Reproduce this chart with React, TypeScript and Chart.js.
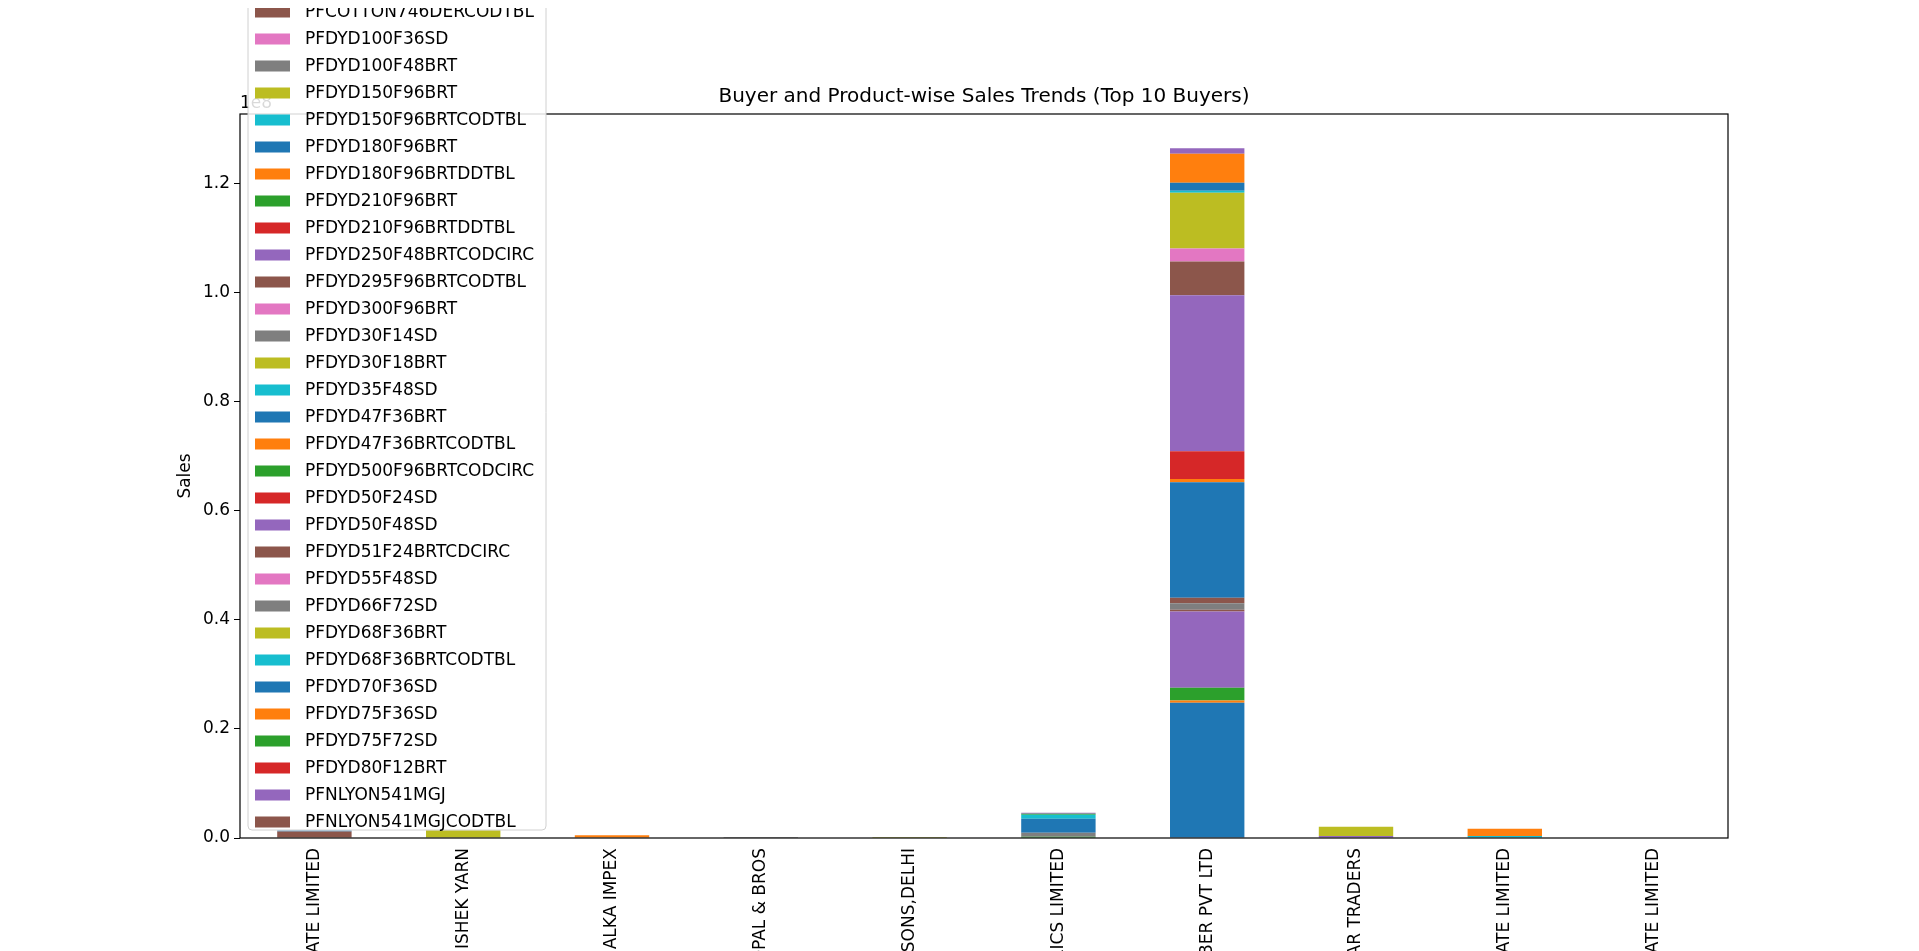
import { useEffect, useRef } from "react"
import { Chart, registerables } from "chart.js"

Chart.register(...registerables)

// buyer names (only the tail end is visible in the picture)
const buyers = [
  "SHREE SPINNERS PRIVATE LIMITED",
  "ABHISHEK YARN",
  "ALKA IMPEX",
  "GOPAL & BROS",
  "JAIN SONS,DELHI",
  "VARDHMAN FABRICS LIMITED",
  "POLYFIBER PVT LTD",
  "KUMAR TRADERS",
  "TEXTILES INDIA PRIVATE LIMITED",
  "SURYA SYNTHETICS PRIVATE LIMITED",
]

// products above the visible part of the legend (cut off at the top)
const hiddenProducts = ["PFCOTTON40SCOMB", "PFCOTTON60SCOMB", "PFCOTTON60SCOMBCODTBL", "PFCOTTON746", "PFCOTTON746DER"]

const products = [
  "PFCOTTON746DERCODTBL", "PFDYD100F36SD", "PFDYD100F48BRT", "PFDYD150F96BRT", "PFDYD150F96BRTCODTBL",
  "PFDYD180F96BRT", "PFDYD180F96BRTDDTBL", "PFDYD210F96BRT", "PFDYD210F96BRTDDTBL", "PFDYD250F48BRTCODCIRC",
  "PFDYD295F96BRTCODTBL", "PFDYD300F96BRT", "PFDYD30F14SD", "PFDYD30F18BRT", "PFDYD35F48SD",
  "PFDYD47F36BRT", "PFDYD47F36BRTCODTBL", "PFDYD500F96BRTCODCIRC", "PFDYD50F24SD", "PFDYD50F48SD",
  "PFDYD51F24BRTCDCIRC", "PFDYD55F48SD", "PFDYD66F72SD", "PFDYD68F36BRT", "PFDYD68F36BRTCODTBL",
  "PFDYD70F36SD", "PFDYD75F36SD", "PFDYD75F72SD", "PFDYD80F12BRT", "PFNLYON541MGJ",
  "PFNLYON541MGJCODTBL",
]

const allProducts = [...hiddenProducts, ...products]

// sales per product: [buyer index, value]
const sales: Record<string, [number, number][]> = {
  PFCOTTON40SCOMB: [[6, 24800000]],
  PFCOTTON60SCOMB: [[6, 400000]],
  PFCOTTON60SCOMBCODTBL: [[6, 2350000]],
  PFCOTTON746DER: [[6, 14000000], [7, 370000]],
  PFCOTTON746DERCODTBL: [[0, 1200000], [6, 300000]],
  PFDYD100F48BRT: [[6, 1200000]],
  PFDYD150F96BRTCODTBL: [[8, 370000]],
  PFDYD180F96BRT: [[0, 180000]],
  PFDYD180F96BRTDDTBL: [[2, 500000]],
  PFDYD210F96BRT: [[5, 250000]],
  PFDYD295F96BRTCODTBL: [[6, 1000000]],
  PFDYD30F14SD: [[5, 730000]],
  PFDYD30F18BRT: [[4, 200000]],
  PFDYD47F36BRT: [[5, 2570000], [6, 21200000]],
  PFDYD47F36BRTCODTBL: [[6, 600000], [8, 1340000]],
  PFDYD50F24SD: [[6, 5100000]],
  PFDYD50F48SD: [[6, 28600000]],
  PFDYD51F24BRTCDCIRC: [[6, 6200000]],
  PFDYD55F48SD: [[6, 2400000]],
  PFDYD66F72SD: [[3, 200000]],
  PFDYD68F36BRT: [[1, 1400000], [6, 10200000], [7, 1700000]],
  PFDYD68F36BRTCODTBL: [[5, 730000], [6, 350000]],
  PFDYD70F36SD: [[6, 1500000]],
  PFDYD75F36SD: [[6, 5300000]],
  PFDYD75F72SD: [[5, 180000]],
  PFNLYON541MGJ: [[5, 180000], [6, 1000000]],
}

const yTicks = [0, 0.2, 0.4, 0.6, 0.8, 1.0, 1.2]

const tab10 = ["#1f77b4", "#ff7f0e", "#2ca02c", "#d62728", "#9467bd", "#8c564b", "#e377c2", "#7f7f7f", "#bcbd22", "#17becf"]

const FONT = "'DejaVu Sans', sans-serif"

const extras = {
  id: "extras",
  afterDraw(chart: Chart) {
    const { ctx, chartArea: a } = chart
    ctx.save()
    // axes box
    ctx.strokeStyle = "#000"
    ctx.lineWidth = 1.2
    ctx.strokeRect(a.left, a.top, a.right - a.left, a.bottom - a.top)
    // title
    ctx.fillStyle = "#000"
    ctx.font = `20px ${FONT}`
    ctx.textAlign = "center"
    ctx.textBaseline = "alphabetic"
    ctx.fillText("Buyer and Product-wise Sales Trends (Top 10 Buyers)", (a.left + a.right) / 2, 102)
    // offset text
    ctx.font = `17px ${FONT}`
    ctx.textAlign = "left"
    ctx.fillText("1e8", a.left, 108)
    // y title
    ctx.translate(190, (a.top + a.bottom) / 2)
    ctx.rotate(-Math.PI / 2)
    ctx.textAlign = "center"
    ctx.fillText("Sales", 0, 0)
    ctx.setTransform(chart.currentDevicePixelRatio, 0, 0, chart.currentDevicePixelRatio, 0, 0)
    // legend
    const rowH = 27
    const firstY = 12 - rowH * hiddenProducts.length
    const bx = 248, bw = 298
    const by = firstY - 18
    const bh = 830 - by
    ctx.fillStyle = "rgba(255,255,255,0.85)"
    ctx.strokeStyle = "#d0d0d0"
    ctx.lineWidth = 1
    ctx.beginPath()
    ctx.roundRect(bx, by, bw, bh, 4)
    ctx.fill()
    ctx.stroke()
    ctx.font = `17px ${FONT}`
    ctx.textBaseline = "middle"
    ctx.textAlign = "left"
    allProducts.forEach((p, i) => {
      const y = firstY + i * rowH
      ctx.fillStyle = tab10[i % 10]
      ctx.fillRect(255, y - 5.5, 35, 11)
      ctx.fillStyle = "#000"
      ctx.fillText(p, 305, y + 1)
    })
    ctx.restore()
  },
}

export default function App() {
  const chartRef = useRef<HTMLCanvasElement>(null)
  const chartInstance = useRef<Chart | null>(null)

  useEffect(() => {
    if (!chartRef.current) return
    if (chartInstance.current) chartInstance.current.destroy()
    const ctx = chartRef.current.getContext("2d")
    if (!ctx) return

    const datasets = allProducts.map((p, i) => {
      const data = buyers.map(() => 0)
      ;(sales[p] || []).forEach(([b, v]) => (data[b] = v))
      return {
        label: p,
        data,
        backgroundColor: tab10[i % 10],
        borderWidth: 0,
        barPercentage: 0.5,
        categoryPercentage: 1,
      }
    })

    chartInstance.current = new Chart(ctx, {
      type: "bar",
      data: { labels: buyers, datasets },
      options: {
        responsive: false,
        animation: false,
        layout: { padding: { top: 114, right: 207, left: 0, bottom: 0 } },
        plugins: { legend: { display: false }, title: { display: false }, tooltip: { enabled: false } },
        scales: {
          x: {
            stacked: true,
            afterFit: (s: any) => { s.height = 300 },
            grid: { display: false, drawOnChartArea: false, drawTicks: true, tickLength: 6, color: "#000" },
            border: { display: false },
            ticks: { color: "#000", font: { family: FONT, size: 17 }, minRotation: 90, maxRotation: 90, autoSkip: false, padding: 4 },
          },
          y: {
            stacked: true,
            min: 0,
            max: 1.328e8,
            afterFit: (s: any) => { s.width = 240 },
            afterBuildTicks: (s: any) => { s.ticks = yTicks.map((v) => ({ value: v * 1e8 })) },
            grid: { drawOnChartArea: false, drawTicks: true, tickLength: 6, color: "#000" },
            border: { display: false },
            ticks: {
              color: "#000",
              font: { family: FONT, size: 17 },
              padding: 4,
              callback: (v: any) => (Number(v) / 1e8).toFixed(1),
            },
          },
        },
      },
      plugins: [extras],
    })

    return () => {
      if (chartInstance.current) chartInstance.current.destroy()
    }
  }, [])

  return (
    <div style={{ margin: -8, background: "#fff", width: 1935 }}>
      <canvas ref={chartRef} width={1935} height={1138} style={{ display: "block" }} />
    </div>
  )
}
